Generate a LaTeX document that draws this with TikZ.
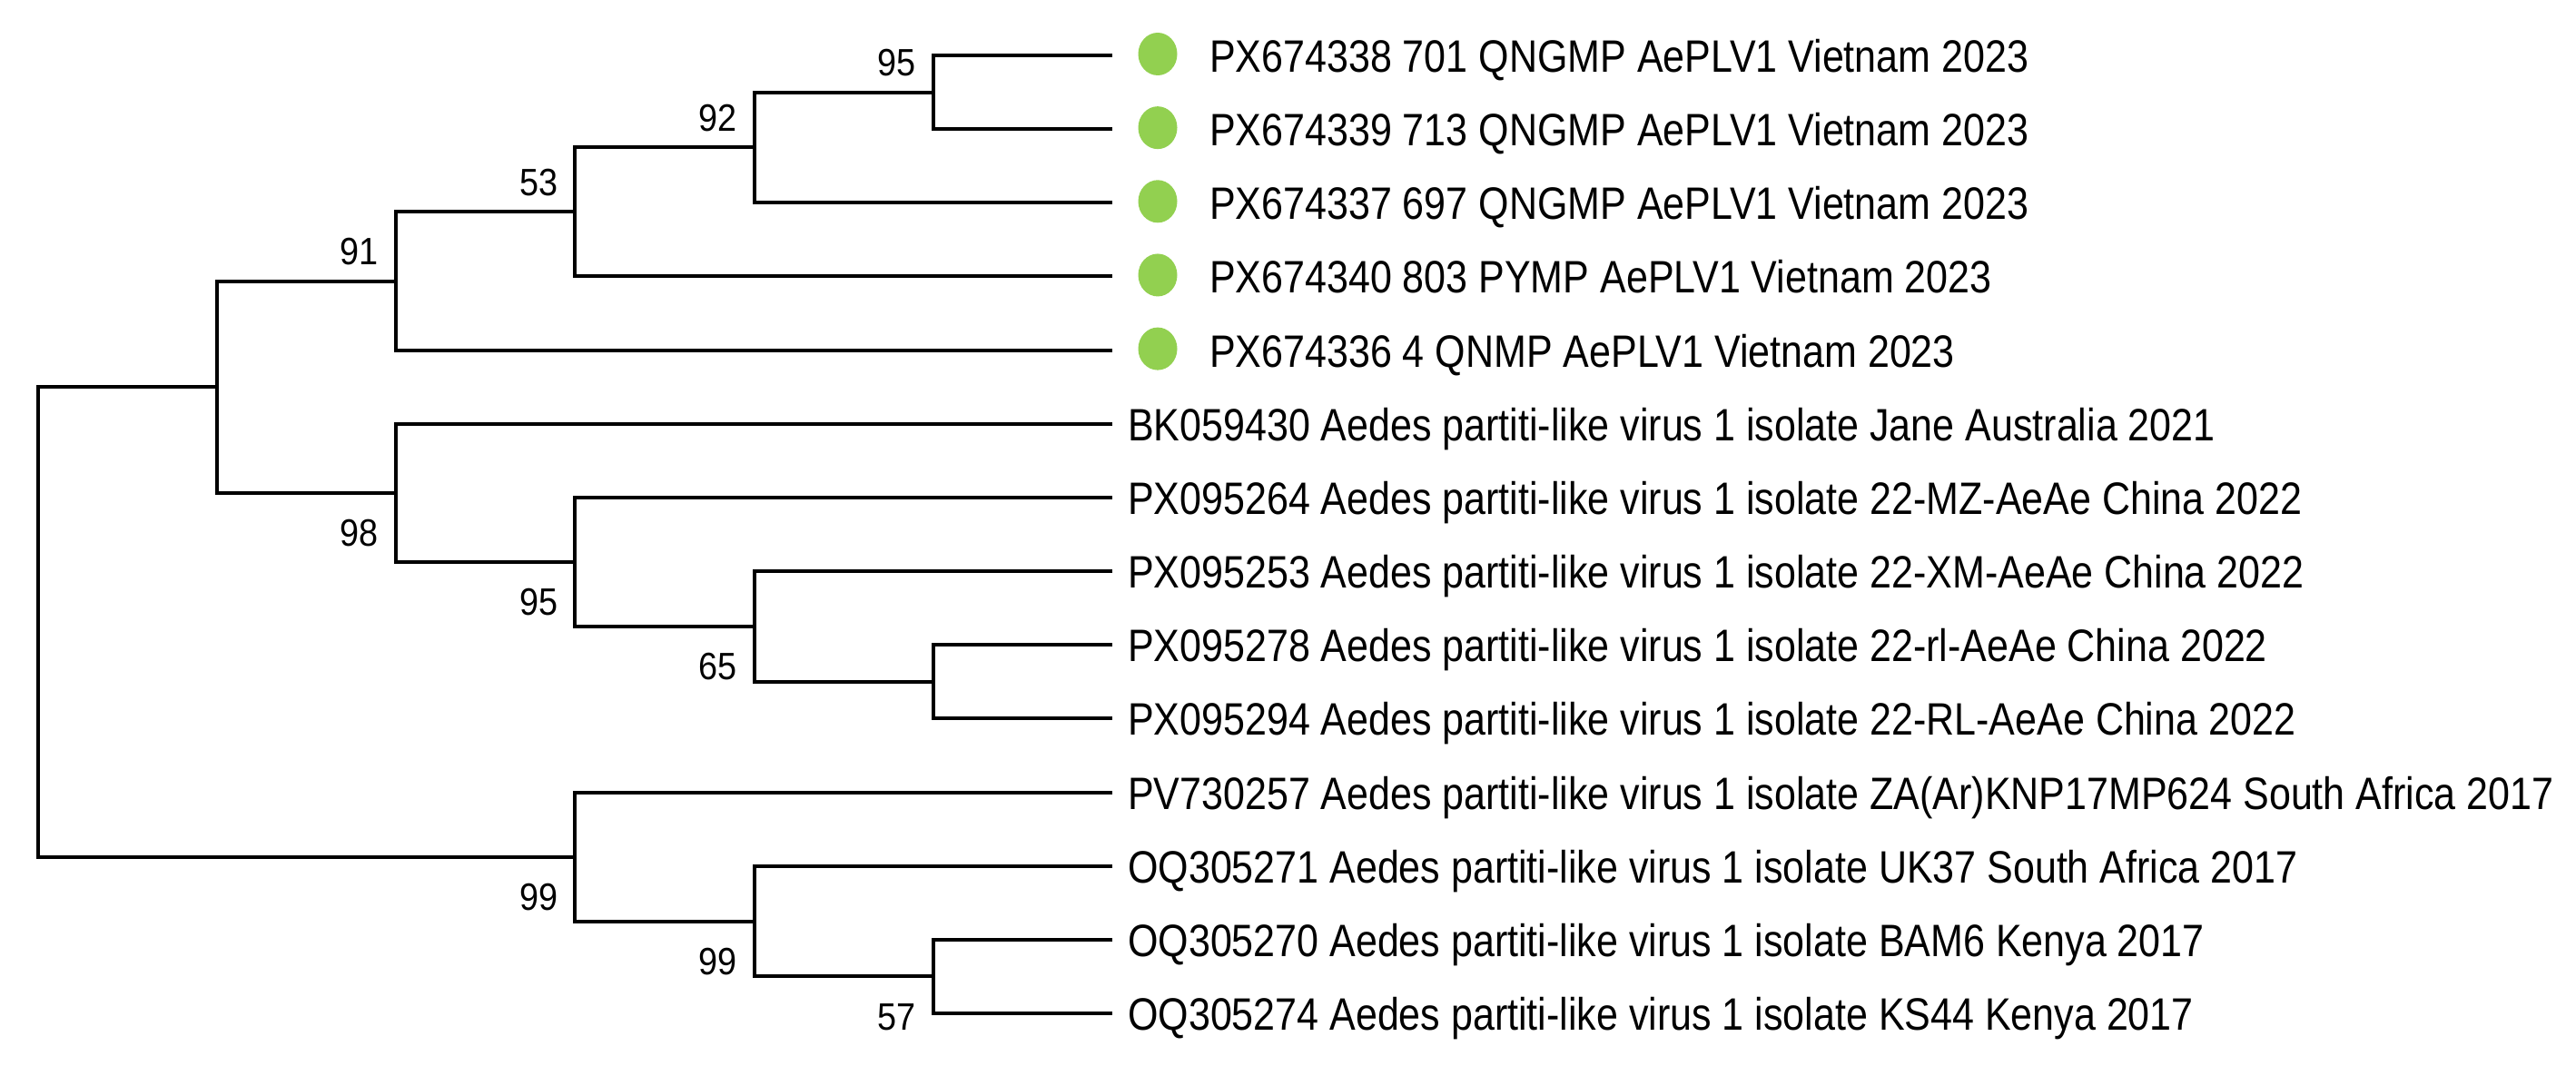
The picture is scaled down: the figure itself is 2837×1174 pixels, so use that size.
\documentclass[tikz,border=0pt]{standalone}
\usepackage{fontspec}
\usetikzlibrary{shapes.geometric}
\newfontfamily\labfont[FakeStretch=0.86]{Liberation Sans}
\newfontfamily\bootfont[FakeStretch=0.9]{Liberation Sans}
\definecolor{dotgreen}{RGB}{146,208,80}
\begin{document}
\begin{tikzpicture}[x=1pt,y=-1pt,
  branch/.style={line width=4pt,black},
  leaflab/.style={anchor=base west,inner sep=0pt,font=\labfont\fontsize{50}{60}\selectfont},
  bsabove/.style={anchor=base east,inner sep=0pt,font=\bootfont\fontsize{42}{50}\selectfont},
  bsbelow/.style={anchor=base east,inner sep=0pt,font=\bootfont\fontsize{42}{50}\selectfont},
  gdot/.style={ellipse,fill=dotgreen,minimum width=43pt,minimum height=47pt,inner sep=0pt}]
\useasboundingbox (0,0) rectangle (2837,1174);
% leaf tips
\coordinate (l0) at (1225,61);
\coordinate (l1) at (1225,142.15);
\coordinate (l2) at (1225,223.3);
\coordinate (l3) at (1225,304.45);
\coordinate (l4) at (1225,385.6);
\coordinate (l5) at (1225,466.75);
\coordinate (l6) at (1225,547.9);
\coordinate (l7) at (1225,629.05);
\coordinate (l8) at (1225,710.2);
\coordinate (l9) at (1225,791.35);
\coordinate (l10) at (1225,872.5);
\coordinate (l11) at (1225,953.65);
\coordinate (l12) at (1225,1034.8);
\coordinate (l13) at (1225,1115.95);
% internal nodes
\coordinate (n95a) at (1027.75,101.575);
\coordinate (n92) at (830.5,162.44);
\coordinate (n53) at (633.25,233.44);
\coordinate (n91) at (436,309.52);
\coordinate (nrl) at (1027.75,750.775);
\coordinate (n65) at (830.5,689.91);
\coordinate (n95b) at (633.25,618.9);
\coordinate (n98) at (436,542.8);
\coordinate (ntop) at (238.75,426.16);
\coordinate (n57) at (1027.75,1075.4);
\coordinate (n99b) at (830.5,1014.5);
\coordinate (n99a) at (633.25,943.5);
\coordinate (root) at (41.5,684.8);
% branches
\draw[branch] (l0) -| (n95a) |- (l1);
\draw[branch] (n95a) -| (n92) |- (l2);
\draw[branch] (n92) -| (n53) |- (l3);
\draw[branch] (n53) -| (n91) |- (l4);
\draw[branch] (l8) -| (nrl) |- (l9);
\draw[branch] (l7) -| (n65) |- (nrl);
\draw[branch] (l6) -| (n95b) |- (n65);
\draw[branch] (l5) -| (n98) |- (n95b);
\draw[branch] (n91) -| (ntop) |- (n98);
\draw[branch] (l12) -| (n57) |- (l13);
\draw[branch] (l11) -| (n99b) |- (n57);
\draw[branch] (l10) -| (n99a) |- (n99b);
\draw[branch] (ntop) -| (root) |- (n99a);
% green dots
\node[gdot] (d0) at (1275,59.5) {};
\node[gdot] (d1) at (1275,140.65) {};
\node[gdot] (d2) at (1275,221.8) {};
\node[gdot] (d3) at (1275,302.95) {};
\node[gdot] (d4) at (1275,384.1) {};
% leaf labels
\node[leaflab] (t0) at (1332,79.5) {PX674338 701 QNGMP AePLV1 Vietnam 2023};
\node[leaflab] (t1) at (1332,160.65) {PX674339 713 QNGMP AePLV1 Vietnam 2023};
\node[leaflab] (t2) at (1332,241.8) {PX674337 697 QNGMP AePLV1 Vietnam 2023};
\node[leaflab] (t3) at (1332,322.95) {PX674340 803 PYMP AePLV1 Vietnam 2023};
\node[leaflab] (t4) at (1332,404.1) {PX674336 4 QNMP AePLV1 Vietnam 2023};
\node[leaflab] (t5) at (1242,485.25) {BK059430 Aedes partiti-like virus 1 isolate Jane Australia 2021};
\node[leaflab] (t6) at (1242,566.4) {PX095264 Aedes partiti-like virus 1 isolate 22-MZ-AeAe China 2022};
\node[leaflab] (t7) at (1242,647.55) {PX095253 Aedes partiti-like virus 1 isolate 22-XM-AeAe China 2022};
\node[leaflab] (t8) at (1242,728.7) {PX095278 Aedes partiti-like virus 1 isolate 22-rl-AeAe China 2022};
\node[leaflab] (t9) at (1242,809.85) {PX095294 Aedes partiti-like virus 1 isolate 22-RL-AeAe China 2022};
\node[leaflab] (t10) at (1242,891) {PV730257 Aedes partiti-like virus 1 isolate ZA(Ar)KNP17MP624 South Africa 2017};
\node[leaflab] (t11) at (1242,972.15) {OQ305271 Aedes partiti-like virus 1 isolate UK37 South Africa 2017};
\node[leaflab] (t12) at (1242,1053.3) {OQ305270 Aedes partiti-like virus 1 isolate BAM6 Kenya 2017};
\node[leaflab] (t13) at (1242,1134.45) {OQ305274 Aedes partiti-like virus 1 isolate KS44 Kenya 2017};
% bootstrap values
\node[bsabove] (b95a) at ([xshift=-19pt,yshift=18pt]n95a) {95};
\node[bsabove] (b92) at ([xshift=-19pt,yshift=18pt]n92) {92};
\node[bsabove] (b53) at ([xshift=-19pt,yshift=18pt]n53) {53};
\node[bsabove] (b91) at ([xshift=-19pt,yshift=18pt]n91) {91};
\node[bsbelow] (b98) at ([xshift=-19pt,yshift=-59pt]n98) {98};
\node[bsbelow] (b95b) at ([xshift=-19pt,yshift=-59pt]n95b) {95};
\node[bsbelow] (b65) at ([xshift=-19pt,yshift=-59pt]n65) {65};
\node[bsbelow] (b99a) at ([xshift=-19pt,yshift=-59pt]n99a) {99};
\node[bsbelow] (b99b) at ([xshift=-19pt,yshift=-59pt]n99b) {99};
\node[bsbelow] (b57) at ([xshift=-19pt,yshift=-59pt]n57) {57};
\end{tikzpicture}
\end{document}
